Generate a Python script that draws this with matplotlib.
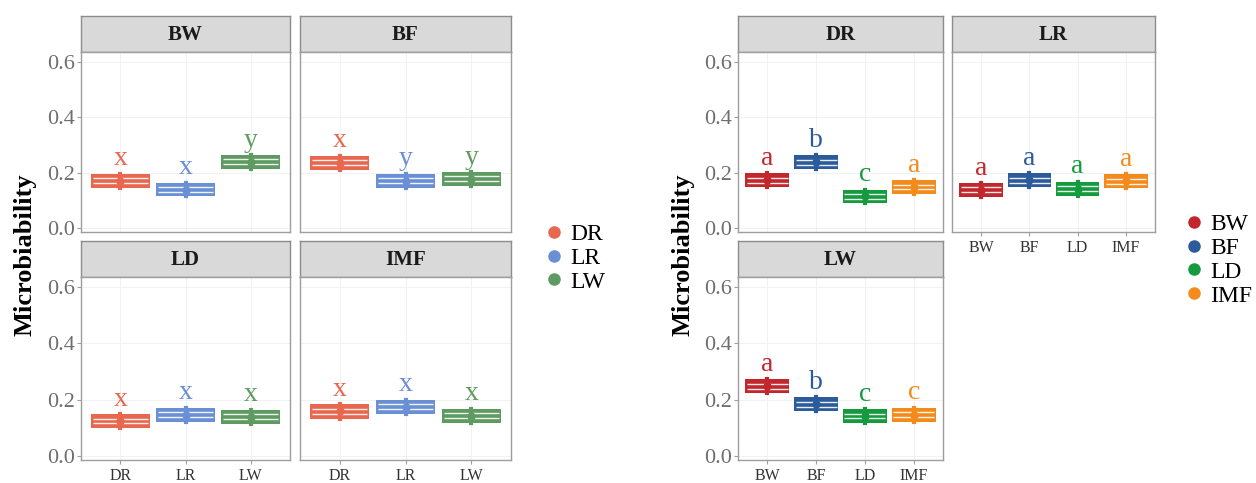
import matplotlib.pyplot as plt
from matplotlib.lines import Line2D
from matplotlib.patches import Rectangle

plt.rcParams["font.family"] = ["Liberation Serif", "DejaVu Serif"]

W, H = 1256, 483

# left chart: facets = trait, x = breed
left_panels = ["BW", "BF", "LD", "IMF"]
left_groups = ["DR", "LR", "LW"]
left_colors = ["#E8674F", "#6A8FD4", "#5F9A62"]
left_values = {
    "BW": [0.171, 0.139, 0.239],
    "BF": [0.236, 0.171, 0.178],
    "LD": [0.124, 0.147, 0.139],
    "IMF": [0.158, 0.175, 0.143],
}
left_letters = {
    "BW": ["x", "x", "y"],
    "BF": ["x", "y", "y"],
    "LD": ["x", "x", "x"],
    "IMF": ["x", "x", "x"],
}

# right chart: facets = breed, x = trait
right_panels = ["DR", "LR", "LW"]
right_groups = ["BW", "BF", "LD", "IMF"]
right_colors = ["#C1272D", "#2C5B9C", "#159A3E", "#F38B1C"]
right_values = {
    "DR": [0.172, 0.238, 0.114, 0.148],
    "LR": [0.138, 0.172, 0.142, 0.169],
    "LW": [0.247, 0.183, 0.142, 0.146],
}
right_letters = {
    "DR": ["a", "b", "c", "a"],
    "LR": ["a", "a", "a", "a"],
    "LW": ["a", "b", "c", "c"],
}

yticks = [0.0, 0.2, 0.4, 0.6]
YLIM = (-0.0145, 0.636)
HALF = 0.025  # half box height

fig = plt.figure(figsize=(W / 100, H / 100), dpi=100)


def px_axes(x0, y0, x1, y1):
    return fig.add_axes([x0 / W, 1 - y1 / H, (x1 - x0) / W, (y1 - y0) / H])


def strip(x0, y0, x1, y1, label):
    sax = px_axes(x0, y0, x1, y1)
    sax.set_facecolor("#D9D9D9")
    sax.set_xticks([])
    sax.set_yticks([])
    for s in sax.spines.values():
        s.set_color("#8C8C8C")
        s.set_linewidth(1.0)
    sax.text(0.5, 0.48, label, transform=sax.transAxes, ha="center", va="center",
             fontsize=15, fontweight="bold", color="#1A1A1A")


def panel(x0, y0, x1, y1, title, groups, values, letters, colors, show_x, show_y):
    strip(x0, y0 - 36, x1, y0, title)
    ax = px_axes(x0, y0, x1, y1)
    n = len(groups)
    ax.set_xlim(0.4, n + 0.6)
    ax.set_ylim(*YLIM)
    ax.set_yticks(yticks)
    ax.set_xticks(range(1, n + 1))
    ax.grid(True, color="#EFEFEF", lw=0.6)
    ax.set_axisbelow(True)
    for s in ax.spines.values():
        s.set_color("#9E9E9E")
        s.set_linewidth(1.0)
    ax.tick_params(axis="both", direction="out", length=3, color="#9E9E9E", width=0.8)
    if show_y:
        ax.set_yticklabels([f"{t:.1f}" for t in yticks], fontsize=16, color="#6E6E6E")
        ax.tick_params(axis="y", pad=1)
    else:
        ax.set_yticklabels([])
        ax.tick_params(axis="y", length=0)
    if show_x:
        ax.set_xticklabels(groups, fontsize=11.5, color="#333333")
        ax.tick_params(axis="x", pad=2.5)
    else:
        ax.set_xticklabels([])
        ax.tick_params(axis="x", length=0)

    for i, (m, lab, c) in enumerate(zip(values, letters, colors), start=1):
        ax.add_patch(Rectangle((i - 0.45, m - HALF), 0.9, 2 * HALF, facecolor=c,
                               edgecolor="none", zorder=3))
        for dy in (-0.35 * HALF, 0.35 * HALF):
            ax.plot([i - 0.42, i + 0.42], [m + dy, m + dy], color="white", lw=1.0,
                    alpha=0.9, solid_capstyle="butt", zorder=4)
        ax.plot([i, i], [m - HALF, m + HALF], color=c, lw=3, zorder=5)
        ax.plot(i, m, "o", color=c, ms=5, zorder=6)
        ax.text(i, m + HALF + 0.03, lab, color=c, fontsize=20, ha="center",
                va="baseline", zorder=6)
    return ax


# ---- left chart ----
lx = [(81, 290), (300, 511)]
ly = [(52, 232), (277, 460)]
for k, p in enumerate(left_panels):
    r, cidx = divmod(k, 2)
    panel(lx[cidx][0], ly[r][0], lx[cidx][1], ly[r][1], p, left_groups,
          left_values[p], left_letters[p], left_colors, show_x=(r == 1), show_y=(cidx == 0))

fig.text(25 / W, 1 - 255 / H, "Microbiability", rotation=90, ha="center", va="center",
         fontsize=19, fontweight="bold")

handles = [Line2D([], [], marker="o", ls="", color=c, ms=8) for c in left_colors]
fig.legend(handles, left_groups, loc="center left", bbox_to_anchor=(530 / W, 1 - 258 / H),
           frameon=False, fontsize=17, handletextpad=0.1, labelspacing=0.1,
           borderaxespad=0, handlelength=1.2)

# ---- right chart ----
rpos = {
    "DR": (738, 52, 943, 232),
    "LR": (952, 52, 1155, 232),
    "LW": (738, 277, 943, 460),
}
for p in right_panels:
    x0, y0, x1, y1 = rpos[p]
    panel(x0, y0, x1, y1, p, right_groups, right_values[p], right_letters[p], right_colors,
          show_x=(p != "DR"), show_y=(p != "LR"))

fig.text(683 / W, 1 - 255 / H, "Microbiability", rotation=90, ha="center", va="center",
         fontsize=19, fontweight="bold")

handles = [Line2D([], [], marker="o", ls="", color=c, ms=8) for c in right_colors]
fig.legend(handles, right_groups, loc="center left", bbox_to_anchor=(1170 / W, 1 - 260 / H),
           frameon=False, fontsize=17, handletextpad=0.1, labelspacing=0.1,
           borderaxespad=0, handlelength=1.2)

fig.savefig("out.png", dpi=100)
